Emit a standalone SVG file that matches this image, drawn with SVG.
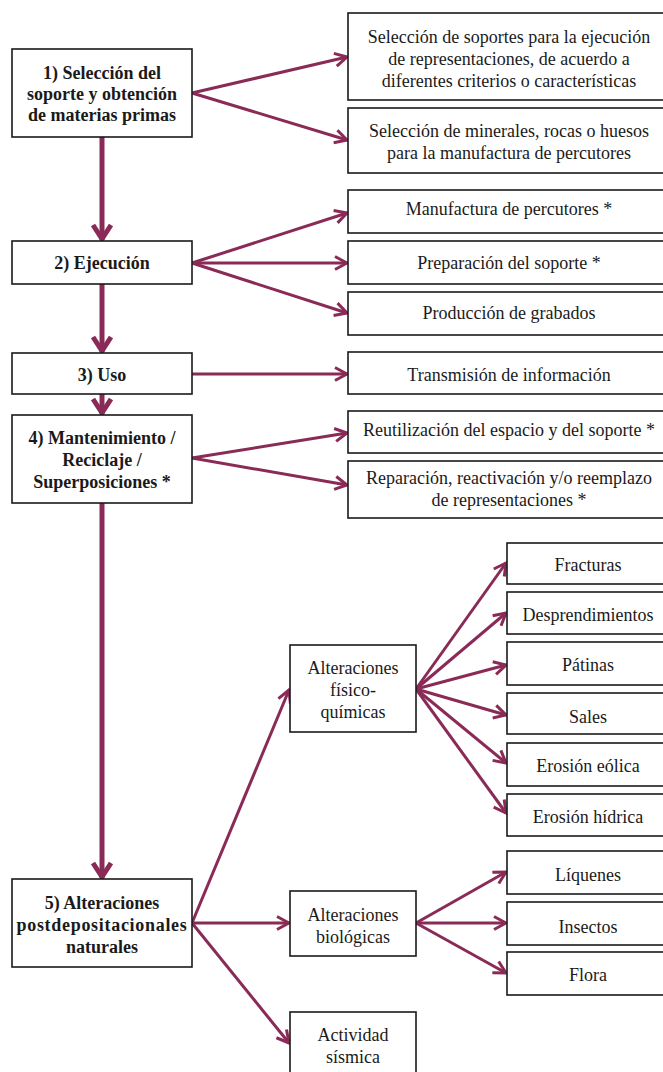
<svg xmlns="http://www.w3.org/2000/svg" width="663" height="1072" viewBox="0 0 663 1072">
<style>
.box{fill:#fff;stroke:#1a1a1a;stroke-width:1.6}
text{font-family:'Liberation Serif','Times New Roman','DejaVu Serif',serif;font-size:18px;fill:#1a1a1a;text-anchor:middle}
.b{font-weight:bold}
.c{stroke:#8a2b57;stroke-width:3;fill:none}
.v{stroke:#8a2b57;stroke-width:5;fill:none}
</style>
<defs>
<marker id="ah" markerUnits="userSpaceOnUse" viewBox="-16 -10 19 20" markerWidth="19" markerHeight="20" refX="0" refY="0" orient="auto">
<path d="M-12,-6.5 L0,0 L-12,6.5" fill="none" stroke="#8a2b57" stroke-width="3" stroke-linejoin="miter"/>
</marker>
<marker id="av" markerUnits="userSpaceOnUse" viewBox="-20 -13 24 26" markerWidth="24" markerHeight="26" refX="0" refY="0" orient="auto">
<path d="M-15,-9 L-1,0 L-15,9" fill="none" stroke="#8a2b57" stroke-width="5" stroke-linejoin="miter"/>
</marker>
</defs>
<rect width="663" height="1072" fill="#fff"/>
<g id="connectors">
<line class="v" x1="102" y1="137" x2="102" y2="240" marker-end="url(#av)"/>
<line class="v" x1="102" y1="284" x2="102" y2="352" marker-end="url(#av)"/>
<line class="v" x1="102" y1="394" x2="102" y2="414" marker-end="url(#av)"/>
<line class="v" x1="102" y1="503" x2="102" y2="878" marker-end="url(#av)"/>
<line class="c" x1="192" y1="93" x2="347" y2="57" marker-end="url(#ah)"/>
<line class="c" x1="192" y1="93" x2="347" y2="140" marker-end="url(#ah)"/>
<line class="c" x1="192" y1="263" x2="347" y2="213" marker-end="url(#ah)"/>
<line class="c" x1="192" y1="263" x2="347" y2="263" marker-end="url(#ah)"/>
<line class="c" x1="192" y1="263" x2="347" y2="313" marker-end="url(#ah)"/>
<line class="c" x1="192" y1="374" x2="347" y2="374" marker-end="url(#ah)"/>
<line class="c" x1="192" y1="458" x2="347" y2="433" marker-end="url(#ah)"/>
<line class="c" x1="192" y1="458" x2="347" y2="485" marker-end="url(#ah)"/>
<line class="c" x1="192" y1="923" x2="289" y2="690" marker-end="url(#ah)"/>
<line class="c" x1="192" y1="923" x2="289" y2="923" marker-end="url(#ah)"/>
<line class="c" x1="192" y1="923" x2="289" y2="1043" marker-end="url(#ah)"/>
<line class="c" x1="416" y1="689" x2="506" y2="563" marker-end="url(#ah)"/>
<line class="c" x1="416" y1="689" x2="506" y2="613" marker-end="url(#ah)"/>
<line class="c" x1="416" y1="689" x2="506" y2="665" marker-end="url(#ah)"/>
<line class="c" x1="416" y1="689" x2="506" y2="715" marker-end="url(#ah)"/>
<line class="c" x1="416" y1="689" x2="506" y2="763" marker-end="url(#ah)"/>
<line class="c" x1="416" y1="689" x2="506" y2="813" marker-end="url(#ah)"/>
<line class="c" x1="416" y1="923" x2="506" y2="872" marker-end="url(#ah)"/>
<line class="c" x1="416" y1="923" x2="506" y2="923" marker-end="url(#ah)"/>
<line class="c" x1="416" y1="923" x2="506" y2="973" marker-end="url(#ah)"/>
</g>
<g id="n1"><rect class="box" x="12" y="49" width="180" height="88"/>
<text class="b" x="102" y="79">1) Selección del</text><text class="b" x="102" y="100">soporte y obtención</text><text class="b" x="102" y="121">de materias primas</text></g>
<g id="n2"><rect class="box" x="12" y="241" width="180" height="43"/><text class="b" x="102" y="269">2) Ejecución</text></g>
<g id="n3"><rect class="box" x="12" y="353" width="180" height="41"/><text class="b" x="102" y="381">3) Uso</text></g>
<g id="n4"><rect class="box" x="12" y="415" width="180" height="88"/>
<text class="b" x="102" y="444">4) Mantenimiento /</text><text class="b" x="102" y="466">Reciclaje /</text><text class="b" x="102" y="488">Superposiciones *</text></g>
<g id="n5"><rect class="box" x="12" y="879" width="180" height="88"/>
<text class="b" x="102" y="909">5) Alteraciones</text><text class="b" x="102" y="931" letter-spacing="0.7">postdepositacionales</text><text class="b" x="102" y="953">naturales</text></g>
<g id="r1"><rect class="box" x="348" y="13" width="322" height="87"/>
<text x="509" y="43">Selección de soportes para la ejecución</text><text x="509" y="65">de representaciones, de acuerdo a</text><text x="509" y="87">diferentes criterios o características</text></g>
<g id="r2"><rect class="box" x="348" y="108" width="322" height="65"/>
<text x="509" y="137">Selección de minerales, rocas o huesos</text><text x="509" y="159">para la manufactura de percutores</text></g>
<g id="r3"><rect class="box" x="348" y="190" width="322" height="43"/><text x="509" y="215">Manufactura de percutores *</text></g>
<g id="r4"><rect class="box" x="348" y="241" width="322" height="43"/><text x="509" y="269">Preparación del soporte *</text></g>
<g id="r5"><rect class="box" x="348" y="292" width="322" height="43"/><text x="509" y="319">Producción de grabados</text></g>
<g id="r6"><rect class="box" x="348" y="352" width="322" height="42"/><text x="509" y="381">Transmisión de información</text></g>
<g id="r7"><rect class="box" x="348" y="411" width="322" height="42"/><text x="509" y="436">Reutilización del espacio y del soporte *</text></g>
<g id="r8"><rect class="box" x="348" y="461" width="322" height="57"/>
<text x="509" y="484">Reparación, reactivación y/o reemplazo</text><text x="509" y="506">de representaciones *</text></g>
<g id="fq"><rect class="box" x="290" y="645" width="126" height="87"/>
<text x="353" y="674">Alteraciones</text><text x="353" y="696">físico-</text><text x="353" y="718">químicas</text></g>
<g id="bio"><rect class="box" x="290" y="891" width="126" height="65"/>
<text x="353" y="921">Alteraciones</text><text x="353" y="943">biológicas</text></g>
<g id="sis"><rect class="box" x="290" y="1012" width="126" height="70"/>
<text x="353" y="1041">Actividad</text><text x="353" y="1063">sísmica</text></g>
<g id="f1"><rect class="box" x="507" y="543" width="162" height="41"/><text x="588" y="571">Fracturas</text></g>
<g id="f2"><rect class="box" x="507" y="592" width="162" height="42"/><text x="588" y="621">Desprendimientos</text></g>
<g id="f3"><rect class="box" x="507" y="642" width="162" height="43"/><text x="588" y="671">Pátinas</text></g>
<g id="f4"><rect class="box" x="507" y="693" width="162" height="41"/><text x="588" y="723">Sales</text></g>
<g id="f5"><rect class="box" x="507" y="743" width="162" height="43"/><text x="588" y="772">Erosión eólica</text></g>
<g id="f6"><rect class="box" x="507" y="794" width="162" height="42"/><text x="588" y="823">Erosión hídrica</text></g>
<g id="b1"><rect class="box" x="507" y="851" width="162" height="43"/><text x="588" y="881">Líquenes</text></g>
<g id="b2"><rect class="box" x="507" y="902" width="162" height="43"/><text x="588" y="933">Insectos</text></g>
<g id="b3"><rect class="box" x="507" y="952" width="162" height="43"/><text x="588" y="981">Flora</text></g>
</svg>
